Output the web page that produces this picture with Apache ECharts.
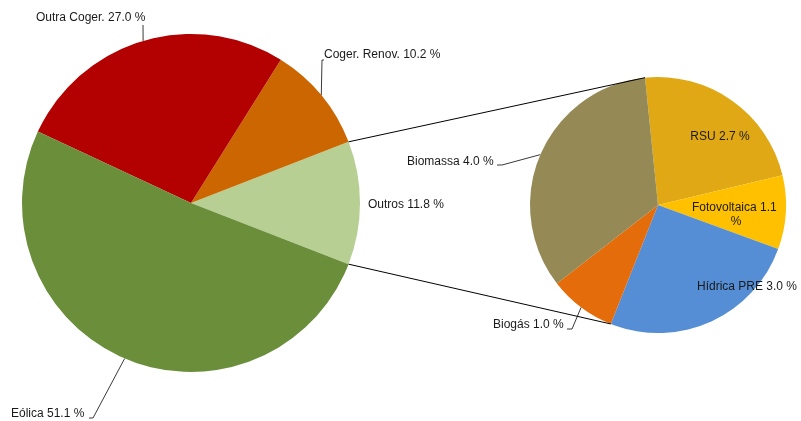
<!DOCTYPE html>
<html>
<head>
<meta charset="utf-8">
<script src="https://cdn.jsdelivr.net/npm/echarts@6/dist/echarts.min.js"></script>
<style>
  html, body { margin: 0; padding: 0; background: #fff; }
  #chart { width: 801px; height: 421px; }
</style>
</head>
<body>
<div id="chart"></div>
<script>
// pie principal (percentagens do total)
const mainNames = ["Outros", "Coger. Renov.", "Outra Coger.", "Eólica"];
const mainValues = [11.8, 10.2, 27.0, 51.1];
const mainColors = ["#b8cf94", "#cc6600", "#b30000", "#6a8e3a"];

// detalhe de "Outros"
const subNames = ["RSU", "Fotovoltaica", "Hídrica PRE", "Biogás", "Biomassa"];
const subValues = [2.7, 1.1, 3.0, 1.0, 4.0];
const subColors = ["#e0a814", "#ffc000", "#558ed5", "#e46c0a", "#958a55"];

// geometria
const LEFT = { cx: 191, cy: 203, r: 169 };
const RIGHT = { cx: 658, cy: 205, r: 128 };
const SUB_START = 95.8;

// posição dos rótulos (x, y, alinhamento, pontos extra da linha)
const labelPos = {
  "Outra Coger.": { x: 36, y: 18, align: "left", line: [[143, 25], [143, 25]] },
  "Coger. Renov.": { x: 324, y: 55, align: "left", line: [[322, 60], [324, 60]] },
  "Outros": { x: 368, y: 205, align: "left" },
  "Eólica": { x: 11, y: 414, align: "left", line: [[93, 418], [89, 418]] },
  "Biomassa": { x: 407, y: 162, align: "left", line: [[502, 165], [497, 165]] },
  "Biogás": { x: 493, y: 325, align: "left", line: [[572, 329], [567, 329]] },
  "RSU": { x: 720, y: 137, align: "center" },
  "Fotovoltaica": { x: 736, y: 215, align: "center" },
  "Hídrica PRE": { x: 747, y: 287, align: "center" },
};

const sum = (a) => a.reduce((s, v) => s + v, 0);
const mainTotal = sum(mainValues);
const subTotal = sum(subValues);
const mainStart = -(mainValues[0] / mainTotal) * 180;

// ângulo médio de cada fatia (graus, anti-horário a partir das 3h)
function midAngles(values, start, dir) {
  const total = sum(values);
  let acc = start;
  return values.map((v) => {
    const span = (v / total) * 360;
    const mid = acc + (dir * span) / 2;
    acc += dir * span;
    return mid;
  });
}
const mainMids = midAngles(mainValues, mainStart, 1);
const subMids = midAngles(subValues, SUB_START, -1);

function edgePoint(c, deg) {
  const a = (deg * Math.PI) / 180;
  return [c.cx + c.r * Math.cos(a), c.cy - c.r * Math.sin(a)];
}

const outsideNames = ["Outra Coger.", "Coger. Renov.", "Eólica", "Biomassa", "Biogás"];

function makeData(names, values, colors) {
  return names.map((n, i) => {
    const inside = !outsideNames.includes(n) && n !== "Outros";
    const item = {
      name: n,
      value: values[i],
      itemStyle: { color: colors[i] },
      label: { position: inside ? "inside" : "outside" },
      labelLine: { show: outsideNames.includes(n) },
    };
    if (n === "Fotovoltaica") {
      item.label.width = 90;
      item.label.overflow = "break";
      item.label.align = "center";
    }
    return item;
  });
}

const textStyle = {
  color: "#1a1a1a",
  fontSize: 12,
  fontFamily: "Liberation Sans, Arial, sans-serif",
  lineHeight: 14,
};

function layoutFor(names, mids, c) {
  return (params) => {
    const name = names[params.dataIndex];
    const p = labelPos[name];
    const out = { x: p.x, y: p.y, align: p.align, verticalAlign: "middle" };
    if (p.line) {
      out.labelLinePoints = [edgePoint(c, mids[params.dataIndex]), ...p.line];
    }
    return out;
  };
}

// linhas de ligação entre os dois gráficos
const halfOutros = (mainValues[0] / mainTotal) * 180;
const bottomSubAngle = SUB_START - (sum(subValues.slice(0, 3)) / subTotal) * 360;
const topA = edgePoint(LEFT, halfOutros);
const topB = edgePoint(RIGHT, SUB_START);
const botA = edgePoint(LEFT, -halfOutros);
const botB = edgePoint(RIGHT, bottomSubAngle);

const chart = echarts.init(document.getElementById("chart"));

const option = {
  animation: false,
  backgroundColor: "#fff",
  graphic: [
    { type: "line", z: 10, shape: { x1: topA[0], y1: topA[1], x2: topB[0], y2: topB[1] }, style: { stroke: "#000", lineWidth: 1 } },
    { type: "line", z: 10, shape: { x1: botA[0], y1: botA[1], x2: botB[0], y2: botB[1] }, style: { stroke: "#000", lineWidth: 1 } },
  ],
  series: [
    {
      type: "pie",
      center: [LEFT.cx, LEFT.cy],
      radius: [0, LEFT.r],
      startAngle: mainStart,
      clockwise: false,
      avoidLabelOverlap: false,
      silent: true,
      itemStyle: { borderWidth: 0 },
      label: {
        ...textStyle,
        formatter: (p) => `${p.name} ${p.value.toFixed(1)} %`,
      },
      labelLine: { lineStyle: { color: "#3a3a3a", width: 1 }, length: 10, length2: 10 },
      labelLayout: layoutFor(mainNames, mainMids, LEFT),
      data: makeData(mainNames, mainValues, mainColors),
    },
    {
      type: "pie",
      center: [RIGHT.cx, RIGHT.cy],
      radius: [0, RIGHT.r],
      startAngle: SUB_START,
      clockwise: true,
      avoidLabelOverlap: false,
      silent: true,
      itemStyle: { borderWidth: 0 },
      label: {
        ...textStyle,
        formatter: (p) => `${p.name} ${p.value.toFixed(1)} %`,
      },
      labelLine: { lineStyle: { color: "#3a3a3a", width: 1 }, length: 10, length2: 10 },
      labelLayout: layoutFor(subNames, subMids, RIGHT),
      data: makeData(subNames, subValues, subColors),
    },
  ],
};

chart.setOption(option);
</script>
</body>
</html>
